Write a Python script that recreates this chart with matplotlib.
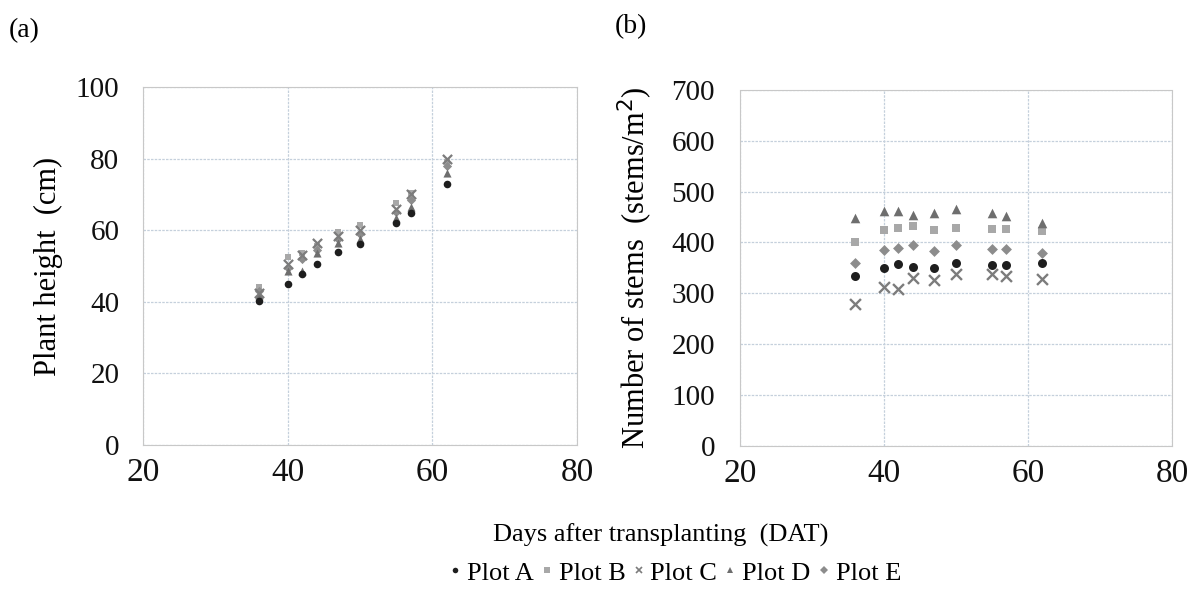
import numpy as np
import matplotlib.pyplot as plt

plt.rcParams['font.family'] = ['Liberation Serif', 'DejaVu Serif']

# Days after transplanting
dat = [36, 40, 42, 44, 47, 50, 55, 57, 62]

# (a) plant height (cm)
height_A = [40.3, 45.0, 47.8, 50.5, 54.0, 56.2, 61.9, 64.9, 73.0]
height_B = [44.0, 52.5, 53.5, 55.5, 59.5, 61.5, 67.5, 70.5, 79.0]
height_C = [42.5, 50.5, 53.0, 56.5, 58.5, 60.0, 66.0, 70.0, 79.8]
height_D = [42.0, 48.5, 48.5, 53.5, 56.5, 57.5, 63.5, 66.5, 76.0]
height_E = [43.0, 49.5, 52.0, 54.5, 57.5, 59.0, 65.0, 68.5, 78.0]

# (b) number of stems (stems/m2)
stems_A = [334, 349, 357, 352, 349, 360, 356, 356, 359]
stems_B = [401, 424, 428, 432, 424, 428, 426, 426, 423]
stems_C = [280, 313, 308, 331, 327, 339, 338, 334, 329]
stems_D = [448, 462, 462, 454, 457, 465, 457, 452, 439]
stems_E = [359, 385, 390, 396, 384, 396, 387, 387, 380]

plots = ['Plot A', 'Plot B', 'Plot C', 'Plot D', 'Plot E']
markers = ['o', 's', 'x', '^', 'D']
colors = ['#1e1e1e', '#a8a8a8', '#7c7c7c', '#6e6e6e', '#8c8c8c']
sizes = [30, 24, 44, 34, 22]

fig = plt.figure(figsize=(11.89, 5.95), dpi=100)
ax1 = fig.add_axes([0.1203, 0.252, 0.365, 0.602])
ax2 = fig.add_axes([0.6224, 0.2504, 0.3633, 0.5986])


def style(ax, ymax, ystep, ypad):
    ax.set_xlim(20, 80)
    ax.set_ylim(0, ymax)
    ax.set_xticks([20, 40, 60, 80])
    ax.set_yticks(np.arange(0, ymax + 1, ystep))
    ax.grid(True, color='#c5d0dc', linestyle=(0, (2, 1)), linewidth=0.9)
    ax.set_axisbelow(True)
    for s in ax.spines.values():
        s.set_color('#c8c8c8')
        s.set_linestyle((0, (2, 1)))
    ax.tick_params(axis='both', length=0, colors='#111111')
    ax.tick_params(axis='x', pad=9, labelsize=24)
    ax.tick_params(axis='y', pad=ypad, labelsize=21)


heights = [height_A, height_B, height_C, height_D, height_E]
stems = [stems_A, stems_B, stems_C, stems_D, stems_E]
order = [1, 4, 3, 2, 0]
for i in order:
    ax1.scatter(dat, heights[i], marker=markers[i], color=colors[i], s=sizes[i],
                linewidths=1.6 if markers[i] == 'x' else 0, zorder=3)
    ax2.scatter(dat, stems[i], marker=markers[i], color=colors[i], s=sizes[i] * 1.4,
                linewidths=1.7 if markers[i] == 'x' else 0, zorder=3)

style(ax1, 100, 20, 17)
style(ax2, 700, 100, 18)

ax1.set_ylabel('Plant height  (cm)', fontsize=22)
ax1.yaxis.set_label_coords(-0.184, 0.5)
ax2.set_ylabel('Number of stems  (stems/m$^2$)', fontsize=22)
ax2.yaxis.set_label_coords(-0.197, 0.5)

fig.text(0.007, 0.948, '(a)', fontsize=20, va='center')
fig.text(0.517, 0.955, '(b)', fontsize=20, va='center')
fig.text(0.556, 0.101, 'Days after transplanting  (DAT)', fontsize=19,
         ha='center', va='center')

handles = [plt.Line2D([], [], linestyle='none', marker=markers[i], color=colors[i],
                      markersize=4 if markers[i] != 'x' else 5,
                      markeredgewidth=1.2 if markers[i] == 'x' else 0)
           for i in range(5)]
fig.legend(handles, plots, loc='center', bbox_to_anchor=(0.568, 0.037), ncol=5,
           frameon=False, fontsize=19, handlelength=0.4, handletextpad=0.25,
           columnspacing=0.3, borderpad=0)

fig.savefig('out.png', dpi=100)
